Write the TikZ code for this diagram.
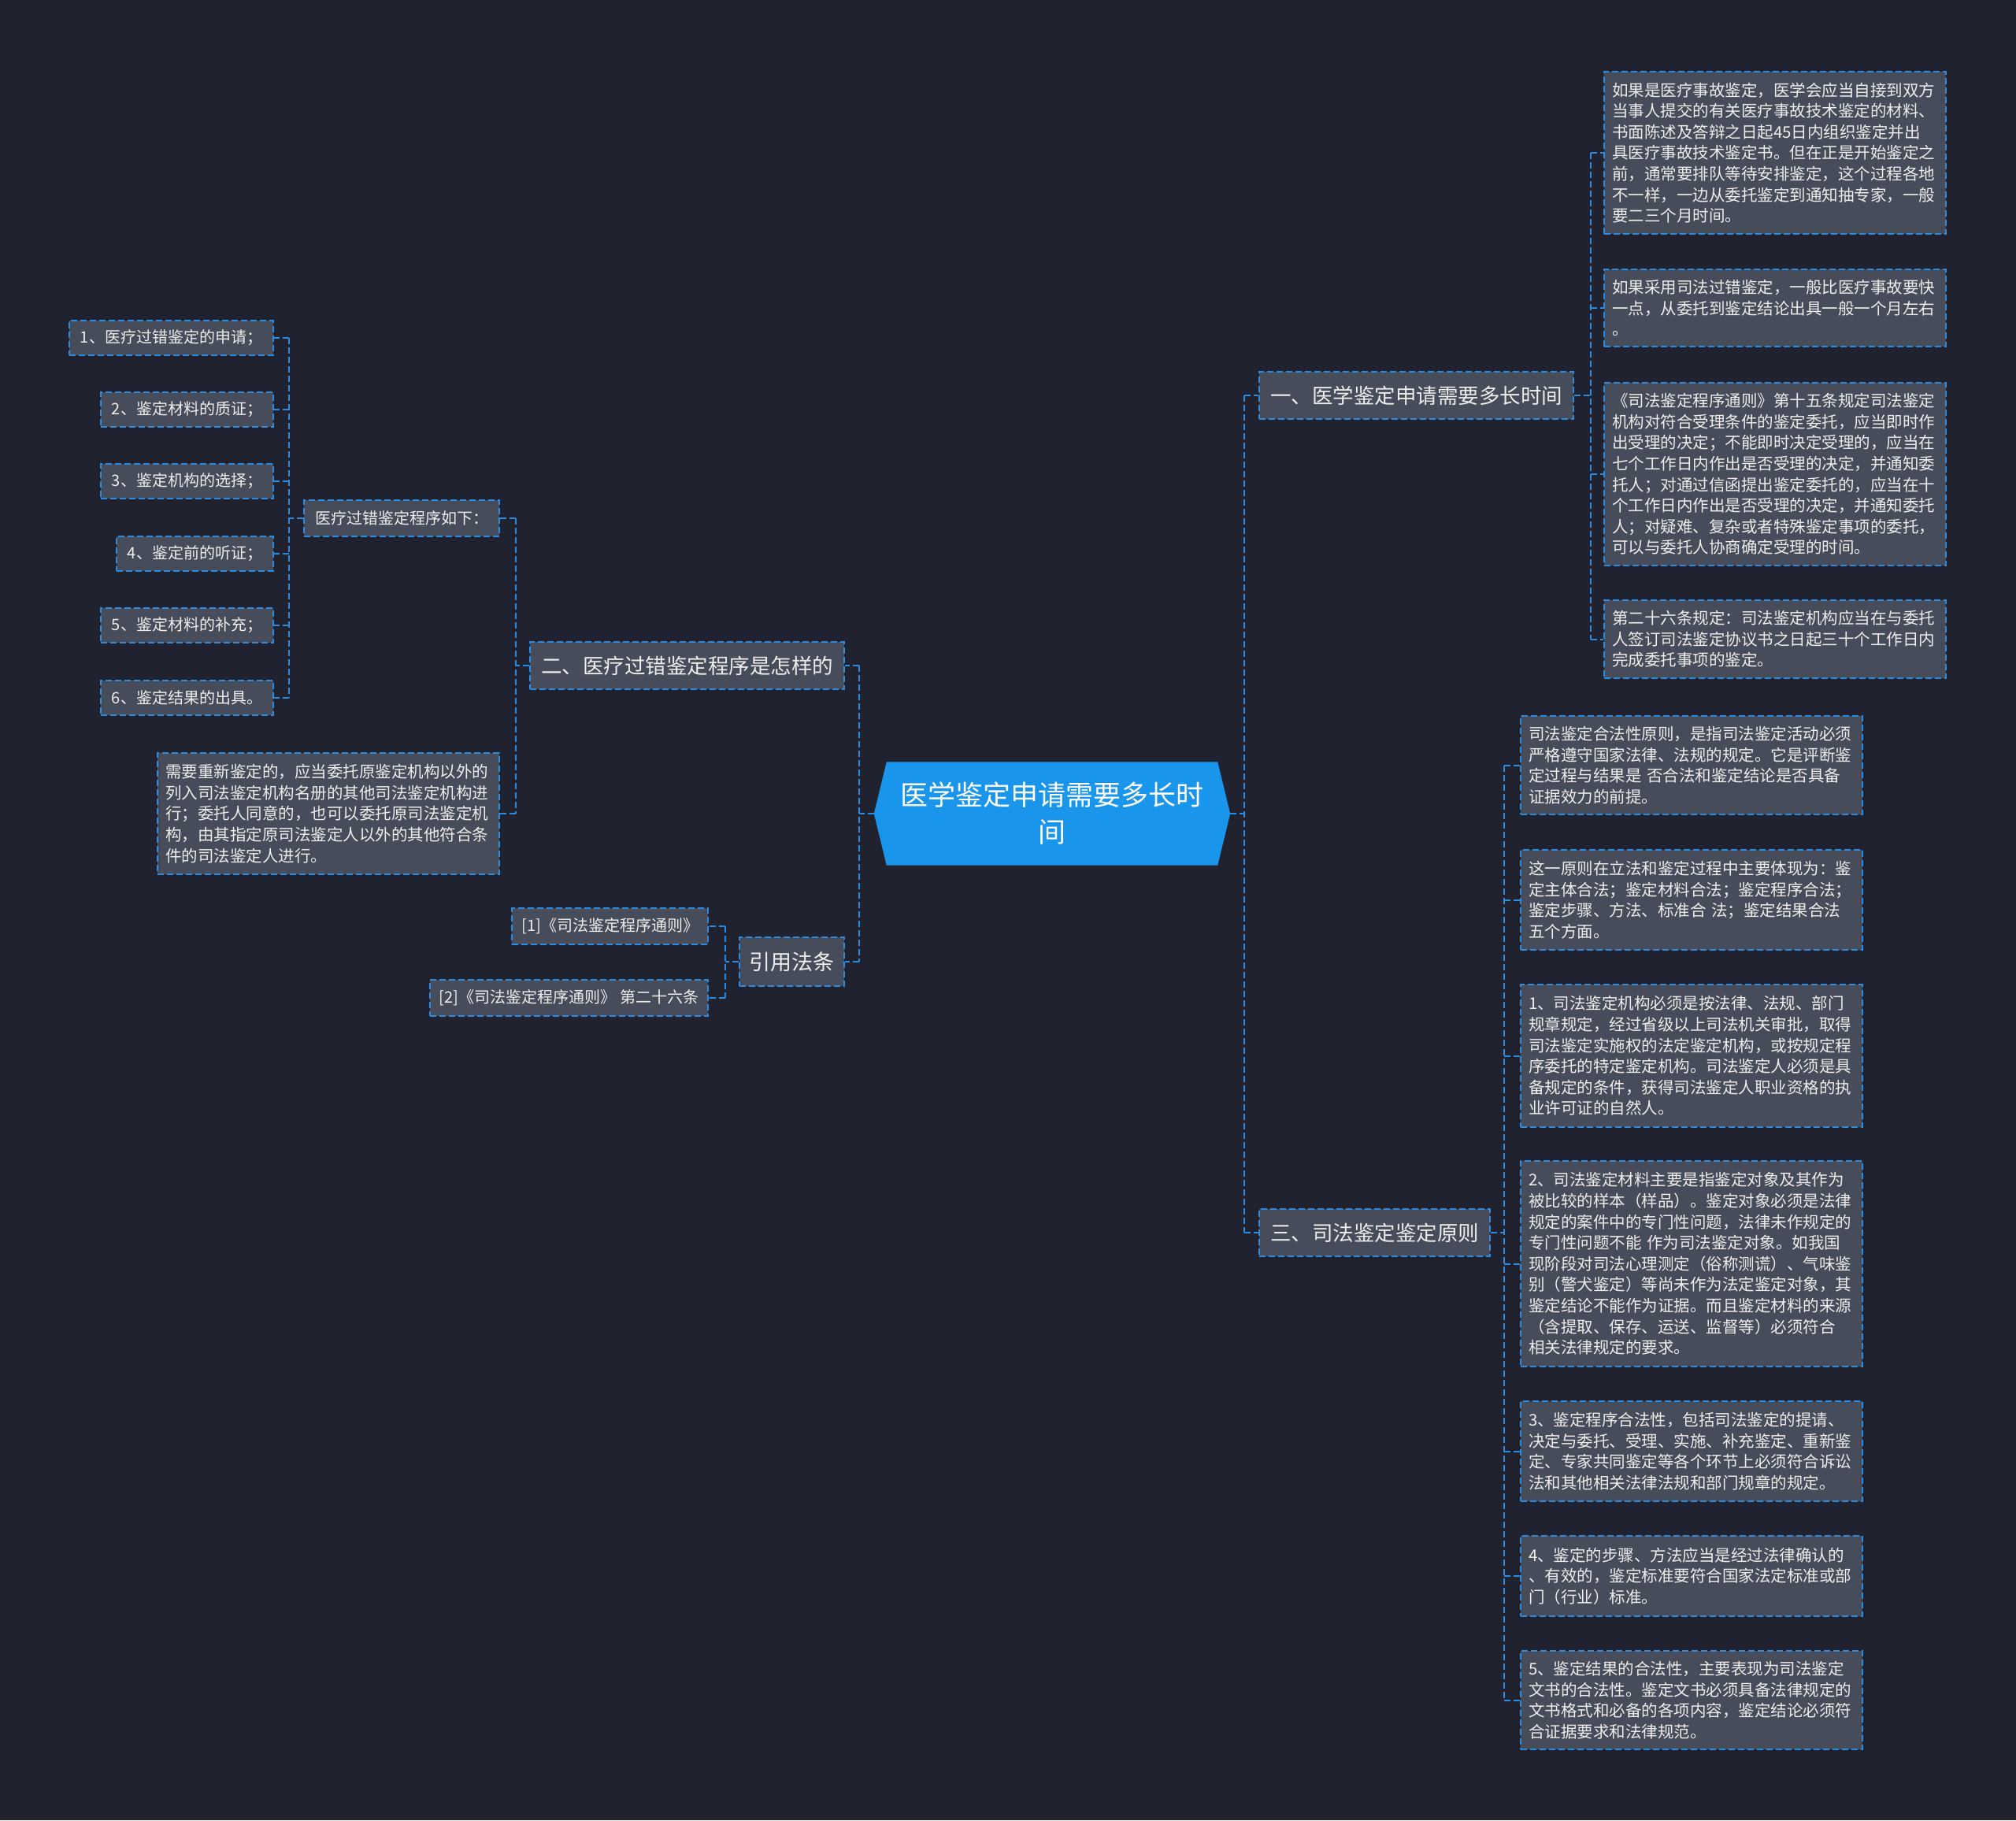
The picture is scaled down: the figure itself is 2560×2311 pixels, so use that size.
\documentclass[tikz,border=0pt]{standalone}
\usepackage{fontspec}
\setmainfont{Noto Sans CJK SC}
\usetikzlibrary{backgrounds}
\definecolor{bgc}{HTML}{20232F}
\definecolor{boxc}{HTML}{474C5A}
\definecolor{linec}{HTML}{2A8BE0}
\definecolor{ctrc}{HTML}{1996EC}
\definecolor{txtc}{HTML}{EEEEEE}
\begin{document}
\begin{tikzpicture}[x=1pt,y=-1pt,
  box/.style={draw=linec, line width=2pt, dash pattern=on 8pt off 4pt, fill=boxc, text=txtc},
  para/.style={box, font=\fontsize{20.5}{26.6}\selectfont, align=left, text width=414pt, inner xsep=10pt, inner ysep=0pt, anchor=north west},
  title/.style={box, font=\fontsize{26.5}{32}\selectfont, inner xsep=14pt, inner ysep=0pt, minimum height=60pt},
  item/.style={box, font=\fontsize{20}{24}\selectfont, inner xsep=14pt, inner ysep=0pt, minimum height=44pt, anchor=east},
  conn/.style={draw=linec, line width=2pt, dash pattern=on 8pt off 4pt}
]
\useasboundingbox (0,0) rectangle (2560,2311);

% spine coordinates
\coordinate (sA) at (1580,0);
\coordinate (sB) at (2020,0);
\coordinate (sC) at (1910,0);
\coordinate (sD) at (1091,0);
\coordinate (sE) at (655,0);
\coordinate (sF) at (367,0);
\coordinate (sG) at (921,0);

% central
\node[text=white, font=\fontsize{35}{47}\selectfont, align=center, minimum width=452pt, minimum height=131pt, inner sep=0pt] (ctr) at (1336,1033) {医学鉴定申请需要多长时\\间};

% right titles
\node[title, anchor=west] (t1) at (1598,502) {一、医学鉴定申请需要多长时间};
\node[title, anchor=west] (t3) at (1598,1565) {三、司法鉴定鉴定原则};

% children of t1
\node[para, minimum height=206pt] (c1) at (2036,90) {如果是医疗事故鉴定，医学会应当自接到双方\\当事人提交的有关医疗事故技术鉴定的材料、\\书面陈述及答辩之日起45日内组织鉴定并出\\具医疗事故技术鉴定书。但在正是开始鉴定之\\前，通常要排队等待安排鉴定，这个过程各地\\不一样，一边从委托鉴定到通知抽专家，一般\\要二三个月时间。};
\node[para, minimum height=98pt] (c2) at (2036,341) {如果采用司法过错鉴定，一般比医疗事故要快\\一点，从委托到鉴定结论出具一般一个月左右\\。};
\node[para, minimum height=232pt] (c3) at (2036,485) {《司法鉴定程序通则》第十五条规定司法鉴定\\机构对符合受理条件的鉴定委托，应当即时作\\出受理的决定；不能即时决定受理的，应当在\\七个工作日内作出是否受理的决定，并通知委\\托人；对通过信函提出鉴定委托的，应当在十\\个工作日内作出是否受理的决定，并通知委托\\人；对疑难、复杂或者特殊鉴定事项的委托，\\可以与委托人协商确定受理的时间。};
\node[para, minimum height=99pt] (c4) at (2036,761) {第二十六条规定：司法鉴定机构应当在与委托\\人签订司法鉴定协议书之日起三十个工作日内\\完成委托事项的鉴定。};

% children of t3
\node[para, minimum height=125pt] (d1) at (1930,908) {司法鉴定合法性原则，是指司法鉴定活动必须\\严格遵守国家法律、法规的规定。它是评断鉴\\定过程与结果是 否合法和鉴定结论是否具备\\证据效力的前提。};
\node[para, minimum height=127pt] (d2) at (1930,1078) {这一原则在立法和鉴定过程中主要体现为：鉴\\定主体合法；鉴定材料合法；鉴定程序合法；\\鉴定步骤、方法、标准合 法；鉴定结果合法\\五个方面。};
\node[para, minimum height=181pt] (d3) at (1930,1249) {1、司法鉴定机构必须是按法律、法规、部门\\规章规定，经过省级以上司法机关审批，取得\\司法鉴定实施权的法定鉴定机构，或按规定程\\序委托的特定鉴定机构。司法鉴定人必须是具\\备规定的条件，获得司法鉴定人职业资格的执\\业许可证的自然人。};
\node[para, minimum height=261pt] (d4) at (1930,1473) {2、司法鉴定材料主要是指鉴定对象及其作为\\被比较的样本（样品）。鉴定对象必须是法律\\规定的案件中的专门性问题，法律未作规定的\\专门性问题不能 作为司法鉴定对象。如我国\\现阶段对司法心理测定（俗称测谎）、气味鉴\\别（警犬鉴定）等尚未作为法定鉴定对象，其\\鉴定结论不能作为证据。而且鉴定材料的来源\\（含提取、保存、运送、监督等）必须符合\\相关法律规定的要求。};
\node[para, minimum height=127pt] (d5) at (1930,1778) {3、鉴定程序合法性，包括司法鉴定的提请、\\决定与委托、受理、实施、补充鉴定、重新鉴\\定、专家共同鉴定等各个环节上必须符合诉讼\\法和其他相关法律法规和部门规章的规定。};
\node[para, minimum height=102pt] (d6) at (1930,1949) {4、鉴定的步骤、方法应当是经过法律确认的\\、有效的，鉴定标准要符合国家法定标准或部\\门（行业）标准。};
\node[para, minimum height=125pt] (d7) at (1930,2095) {5、鉴定结果的合法性，主要表现为司法鉴定\\文书的合法性。鉴定文书必须具备法律规定的\\文书格式和必备的各项内容，鉴定结论必须符\\合证据要求和法律规范。};

% left titles
\node[title, anchor=east] (t2) at (1073,845) {二、医疗过错鉴定程序是怎样的};
\node[title, anchor=east, inner xsep=12.5pt, minimum height=62pt, font=\fontsize{27}{32}\selectfont] (rf) at (1073,1221) {引用法条};

% children of t2
\node[item, minimum height=46pt] (prog) at (635,658) {医疗过错鉴定程序如下：};
\node[para, anchor=north east, minimum height=154pt] (pr) at (635,955) {需要重新鉴定的，应当委托原鉴定机构以外的\\列入司法鉴定机构名册的其他司法鉴定机构进\\行；委托人同意的，也可以委托原司法鉴定机\\构，由其指定原司法鉴定人以外的其他符合条\\件的司法鉴定人进行。};

% steps
\node[item] (i1) at (348,429) {1、医疗过错鉴定的申请；};
\node[item] (i2) at (348,520) {2、鉴定材料的质证；};
\node[item] (i3) at (348,611) {3、鉴定机构的选择；};
\node[item] (i4) at (348,703) {4、鉴定前的听证；};
\node[item] (i5) at (348,794) {5、鉴定材料的补充；};
\node[item] (i6) at (348,886) {6、鉴定结果的出具。};

% references
\node[item, inner xsep=12pt, minimum height=46pt] (r1) at (900,1176) {[1]《司法鉴定程序通则》};
\node[item, inner xsep=12pt, minimum height=46pt] (r2) at (900,1267) {[2]《司法鉴定程序通则》 第二十六条};

% connectors: stub from parent, one spine, ticks to children
\draw[conn] (ctr.east) -- (ctr.east -| sA);
\draw[conn] (t1.west -| sA) -- (t3.west -| sA);
\foreach \n in {t1,t3} \draw[conn] (\n.west -| sA) -- (\n.west);

\draw[conn] (t1.east) -- (t1.east -| sB);
\draw[conn] (c1.west -| sB) -- (c4.west -| sB);
\foreach \n in {c1,c2,c3,c4} \draw[conn] (\n.west -| sB) -- (\n.west);

\draw[conn] (t3.east) -- (t3.east -| sC);
\draw[conn] (d1.west -| sC) -- (d7.west -| sC);
\foreach \n in {d1,d2,d3,d4,d5,d6,d7} \draw[conn] (\n.west -| sC) -- (\n.west);

\draw[conn] (ctr.west) -- (ctr.west -| sD);
\draw[conn] (t2.east -| sD) -- (rf.east -| sD);
\foreach \n in {t2,rf} \draw[conn] (\n.east -| sD) -- (\n.east);

\draw[conn] (t2.west) -- (t2.west -| sE);
\draw[conn] (prog.east -| sE) -- (pr.east -| sE);
\foreach \n in {prog,pr} \draw[conn] (\n.east -| sE) -- (\n.east);

\draw[conn] (prog.west) -- (prog.west -| sF);
\draw[conn] (i1.east -| sF) -- (i6.east -| sF);
\foreach \n in {i1,i2,i3,i4,i5,i6} \draw[conn] (\n.east -| sF) -- (\n.east);

\draw[conn] (rf.west) -- (rf.west -| sG);
\draw[conn] (r1.east -| sG) -- (r2.east -| sG);
\foreach \n in {r1,r2} \draw[conn] (\n.east -| sG) -- (\n.east);

\begin{scope}[on background layer]
\fill[bgc] (0,0) rectangle (2560,2311);
\fill[ctrc] ([xshift=16pt]ctr.north west) -- ([xshift=-16pt]ctr.north east) -- (ctr.east) -- ([xshift=-16pt]ctr.south east) -- ([xshift=16pt]ctr.south west) -- (ctr.west) -- cycle;
\end{scope}
\end{tikzpicture}
\end{document}
